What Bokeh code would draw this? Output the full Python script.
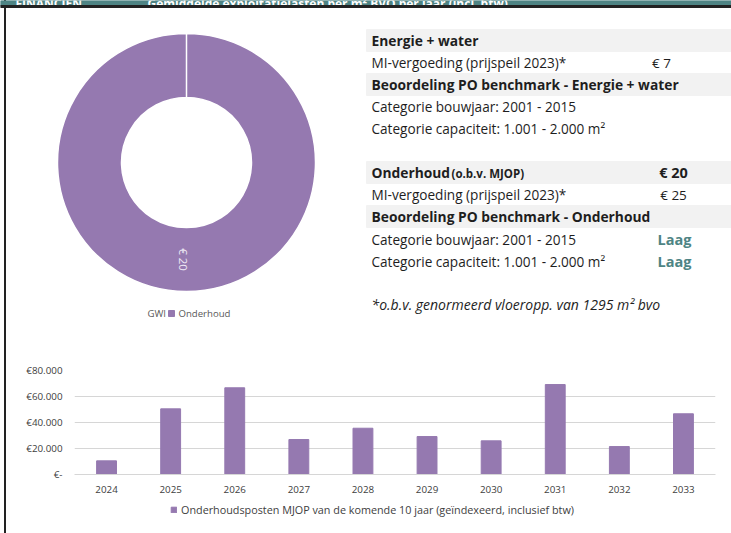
import numpy as np
from bokeh.plotting import figure
from bokeh.layouts import column
from bokeh.models import (Range1d, FactorRange, FixedTicker, Legend, LegendItem,
                          GlobalInlineStyleSheet)
from bokeh.core.properties import value
from bokeh.embed import file_html
from bokeh.resources import INLINE

# ---------------- data ----------------
header_texts = ["FINANCIËN", "Gemiddelde exploitatielasten per m² BVO per jaar (incl. btw)"]

donut_labels = ["GWI", "Onderhoud"]
donut_values = [0, 20]
donut_value_texts = ["€ 0", "€ 20"]
donut_colors = ["#ffffff", "#9579b0"]

panel_labels = [
    "Energie + water",
    "MI-vergoeding (prijspeil 2023)*",
    "Beoordeling PO benchmark - Energie + water",
    "Categorie bouwjaar: 2001 - 2015",
    "Categorie capaciteit: 1.001 - 2.000 m²",
    "Onderhoud",
    "MI-vergoeding (prijspeil 2023)*",
    "Beoordeling PO benchmark - Onderhoud",
    "Categorie bouwjaar: 2001 - 2015",
    "Categorie capaciteit: 1.001 - 2.000 m²",
]
panel_values = ["", "€ 7", "", "", "", "€ 20", "€ 25", "", "Laag", "Laag"]
panel_header_rows = [True, False, True, False, False, True, False, True, False, False]
panel_sublabel = "(o.b.v. MJOP)"
footnote = "*o.b.v. genormeerd vloeropp. van 1295 m² bvo"

years = ["2024", "2025", "2026", "2027", "2028", "2029", "2030", "2031", "2032", "2033"]
costs = [10500, 50500, 66700, 26900, 35600, 29200, 25900, 69200, 21500, 46700]
y_ticks = [0, 20000, 40000, 60000, 80000]
y_tick_labels = ["€-", "€20.000", "€40.000", "€60.000", "€80.000"]
bar_series_name = "Onderhoudsposten MJOP van de komende 10 jaar (geïndexeerd, inclusief btw)"

# ---------------- styles ----------------
FONT = value("Open Sans")
PURPLE = "#9579b0"
TEAL = "#4e8484"
TXT = "#1e1e1e"
GRAY_ROW = "#f2f2f2"
BORDER = "#222222"

W, HT, HB, HL = 731, 340, 158, 35


def sy(y):  # screen y -> data y of top figure
    return HT - y


# ---------------- top figure ----------------
pt = figure(width=W, height=HT, x_range=Range1d(0, W), y_range=Range1d(0, HT),
            x_axis_location=None, y_axis_location=None, min_border=0,
            toolbar_location=None, output_backend="svg")
pt.frame_align = False
pt.grid.visible = False
pt.outline_line_color = None
pt.background_fill_alpha = 0
pt.border_fill_alpha = 0

# header bar
pt.quad(left=[0], right=[W], top=[sy(0)], bottom=[sy(5)], color=TEAL)
pt.text(x=[15, 147], y=[sy(3), sy(3)], text=header_texts, text_font=FONT,
        text_font_size="12px", text_font_style="bold", text_color="white",
        text_baseline="alphabetic")
pt.quad(left=[0], right=[W], top=[sy(5)], bottom=[sy(7)], color=BORDER)

# donut
cx, cy, r_in, r_out = 186, sy(162), 65, 129
vals = np.array(donut_values, dtype=float)
frac = vals / vals.sum()
cum = np.concatenate([[0], np.cumsum(frac)])
starts = np.pi / 2 - 2 * np.pi * cum[:-1]
ends = np.pi / 2 - 2 * np.pi * np.minimum(cum[1:], cum[:-1] + 0.99999)
for i in range(len(vals)):
    if vals[i] <= 0:
        continue
    pt.annular_wedge(x=[cx], y=[cy], inner_radius=r_in, outer_radius=r_out,
                     start_angle=[starts[i]], end_angle=[ends[i]], direction="clock",
                     fill_color=donut_colors[i], line_color="white", line_width=1.5)
    mid = (starts[i] + ends[i]) / 2
    rm = (r_in + r_out) / 2
    pt.text(x=[cx + rm * np.cos(mid) - 3], y=[cy + rm * np.sin(mid)],
            text=[donut_value_texts[i]], angle=mid, text_font=FONT,
            text_font_size="11.5px", text_color="#efe9f5",
            text_align="center", text_baseline="middle")

# donut legend
leg_x = [147, 178]
pt.text(x=leg_x, y=[sy(313)] * 2, text=donut_labels, text_font=FONT,
        text_font_size="9.6px", text_color="#595959", text_baseline="middle")
pt.quad(left=[leg_x[1] - 10], right=[leg_x[1] - 4], top=[sy(310)], bottom=[sy(316)],
        color=[donut_colors[1]])

# right text panel
row_y = [40, 62, 84, 106, 128, 172, 194, 216, 239, 261]
for i, lab in enumerate(panel_labels):
    y = sy(row_y[i])
    if panel_header_rows[i]:
        pt.quad(left=[366], right=[W], top=[y + 11], bottom=[y - 11], color=GRAY_ROW)
        pt.text(x=[371], y=[y], text=[lab], text_font=FONT, text_font_size="13.8px",
                text_font_style="bold", text_color=TXT, text_baseline="middle")
    else:
        pt.text(x=[371], y=[y], text=[lab], text_font=FONT, text_font_size="13.6px",
                text_color=TXT, text_baseline="middle")
    v = panel_values[i]
    if v:
        if v == "Laag":
            pt.text(x=[674], y=[y], text=[v], text_font=FONT, text_font_size="14.5px",
                    text_font_style="bold", text_color=TEAL, text_align="center",
                    text_baseline="middle")
        elif panel_header_rows[i]:
            pt.text(x=[673], y=[y], text=[v], text_font=FONT, text_font_size="14.5px",
                    text_font_style="bold", text_color=TXT, text_align="center",
                    text_baseline="middle")
        else:
            pt.text(x=[673 if i > 4 else 661], y=[y], text=[v], text_font=FONT,
                    text_font_size="13.5px", text_color=TXT, text_align="center",
                    text_baseline="middle")
pt.text(x=[451], y=[sy(row_y[5]) - 1], text=[panel_sublabel], text_font=FONT,
        text_font_size="11.5px", text_font_style="bold", text_color=TXT,
        text_baseline="middle")
pt.text(x=[371], y=[sy(304)], text=[footnote], text_font=FONT, text_font_size="14px",
        text_font_style="italic", text_color=TXT, text_baseline="middle")

# ---------------- bar chart ----------------
pb = figure(width=W, height=HB, x_range=FactorRange(*years), y_range=Range1d(0, 80000),
            min_border_left=74, min_border_right=16, min_border_top=30, min_border_bottom=24,
            toolbar_location=None, output_backend="svg")
pb.frame_align = False
pb.border_fill_alpha = 0
bars = pb.vbar(x=years, top=costs, width=0.31, color=PURPLE)
pb.outline_line_color = None
pb.xgrid.grid_line_color = None
pb.ygrid.grid_line_color = "#d6d6d6"
pb.ygrid.ticker = FixedTicker(ticks=y_ticks)
pb.yaxis.ticker = FixedTicker(ticks=y_ticks)
pb.yaxis.major_label_overrides = {float(t): l for t, l in zip(y_ticks, y_tick_labels)}
pb.yaxis.axis_line_color = None
pb.yaxis.major_tick_line_color = None
pb.yaxis.minor_tick_line_color = None
pb.yaxis.major_label_standoff = 6
pb.xaxis.axis_line_color = "#d6d6d6"
pb.xaxis.major_tick_line_color = None
pb.xaxis.major_label_standoff = 5
for ax in (pb.xaxis, pb.yaxis):
    ax.major_label_text_font = "Open Sans"
    ax.major_label_text_font_size = "9.8px"
    ax.major_label_text_color = "#404040"

# ---------------- legend strip for bar chart ----------------
pl = figure(width=W, height=HL, x_range=Range1d(0, 1), y_range=Range1d(0, 1),
            x_axis_location=None, y_axis_location=None, min_border=0,
            toolbar_location=None, output_backend="svg")
pl.frame_align = False
pl.grid.visible = False
pl.outline_line_color = None
pl.border_fill_alpha = 0
pl.background_fill_alpha = 0
# proxy renderer, lying outside the visible range, that only supplies the legend swatch
leg_r = pl.vbar(x=[-1], top=[-1], width=0.1, color=PURPLE)
legend = Legend(items=[LegendItem(label=bar_series_name, renderers=[leg_r])],
                location=(170, 16), orientation="horizontal", padding=0, margin=0,
                spacing=0, glyph_width=7, glyph_height=7, label_height=10,
                label_standoff=4, label_text_font="Open Sans",
                label_text_font_size="10.8px", label_text_color="#404040",
                border_line_color=None, background_fill_alpha=0)
pl.add_layout(legend, "center")

layout = column(pt, pb, pl, spacing=0)
layout.stylesheets = [GlobalInlineStyleSheet(css=(
    "html,body{margin:0 !important;padding:0;}"
    "body{background:linear-gradient(90deg,#fff 4.5px,#222 4.5px,#222 6.5px,#fff 6.5px);}"
))]

open("out.html", "w").write(file_html(layout, INLINE))
